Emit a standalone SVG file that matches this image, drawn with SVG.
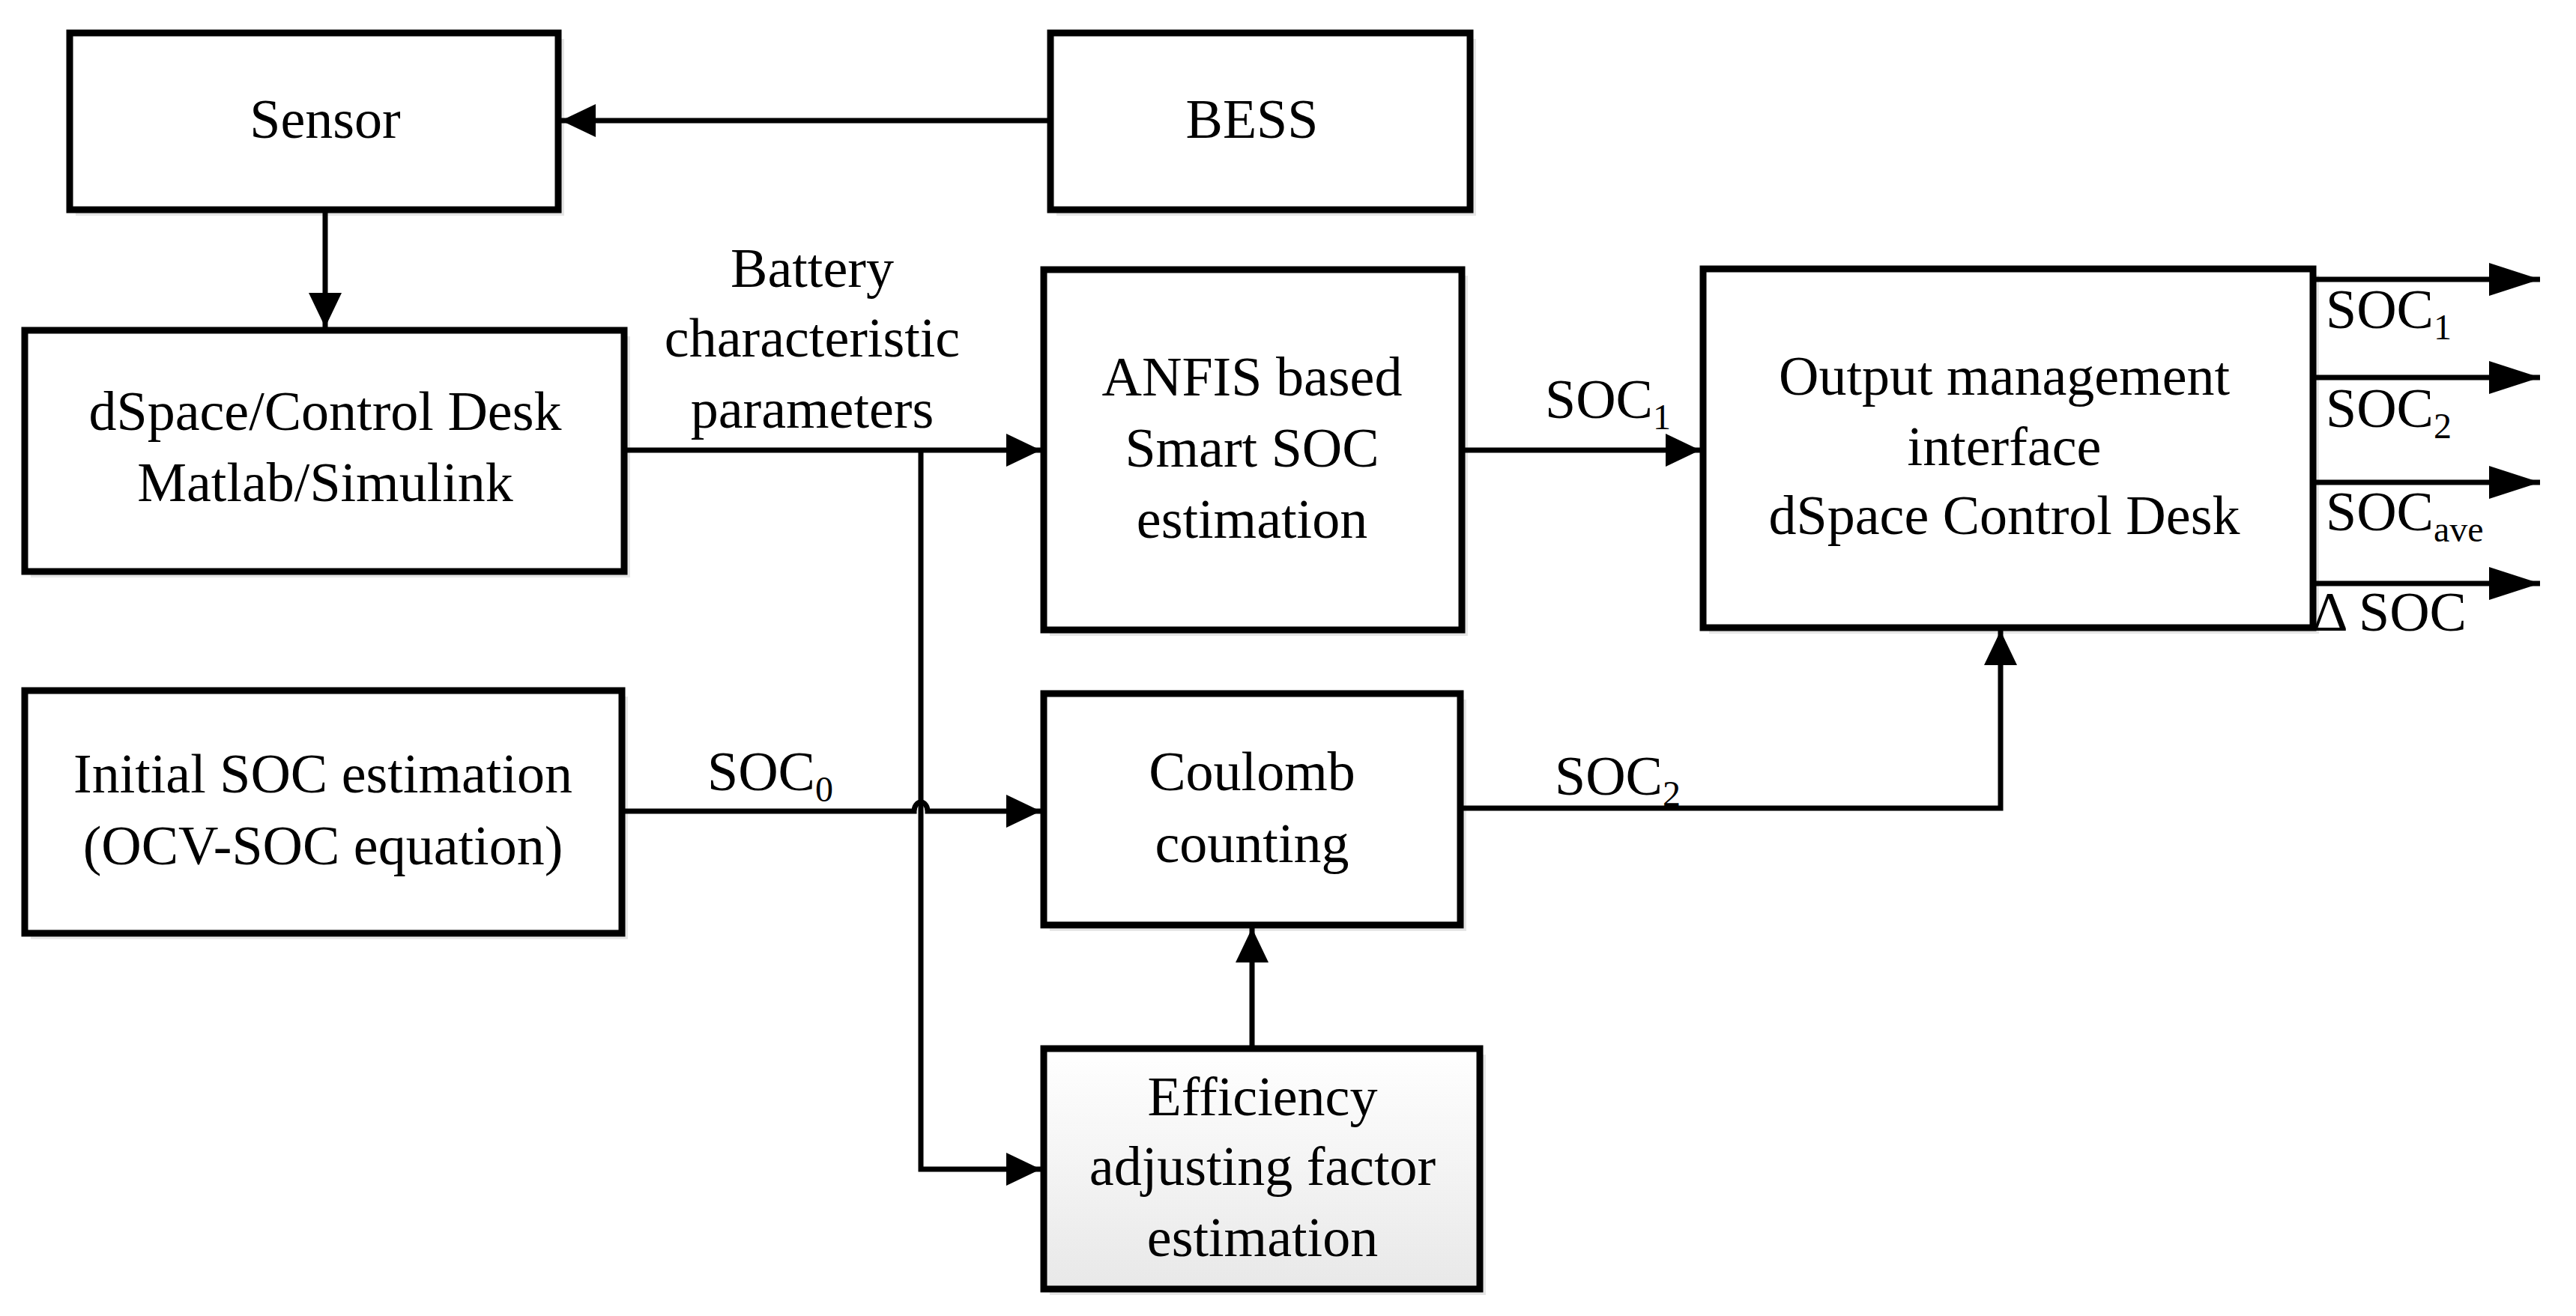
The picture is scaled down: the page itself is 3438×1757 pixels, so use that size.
<svg xmlns="http://www.w3.org/2000/svg" width="3438" height="1757" viewBox="0 0 3438 1757">
<style>
.box{fill:#fff;stroke:#000;stroke-width:9}
.sh{fill:#e6e6e6}
.t{font-family:"Liberation Serif",serif;font-size:74px;fill:#000;text-anchor:middle}
.l{font-family:"Liberation Serif",serif;font-size:74px;fill:#000}
.c{fill:none;stroke:#000;stroke-width:7}
.s{font-size:48px}
</style>
<defs>
<linearGradient id="g" x1="0" y1="0" x2="0" y2="1"><stop offset="0" stop-color="#fff"/><stop offset="1" stop-color="#e8e8e8"/></linearGradient>
<marker id="a" markerUnits="userSpaceOnUse" markerWidth="50" markerHeight="44" refX="46" refY="22" orient="auto"><path d="M0,0L46,22L0,44Z" fill="#000"/></marker>
<marker id="b" markerUnits="userSpaceOnUse" markerWidth="72" markerHeight="48" refX="68" refY="24" orient="auto"><path d="M0,2L68,24L0,46Z" fill="#000"/></marker>
</defs>
<g id="sensor"><rect class="sh" x="101" y="52" width="652" height="236"/><rect class="box" x="93" y="44" width="652" height="236"/><text class="t" x="434" y="184">Sensor</text></g>
<g id="bess"><rect class="sh" x="1410" y="52" width="560" height="236"/><rect class="box" x="1402" y="44" width="560" height="236"/><text class="t" x="1671" y="184">BESS</text></g>
<g id="dspace"><rect class="sh" x="41" y="449" width="800" height="322"/><rect class="box" x="33" y="441" width="800" height="322"/><text class="t" x="434" y="574">dSpace/Control Desk</text><text class="t" x="434" y="669">Matlab/Simulink</text></g>
<g id="anfis"><rect class="sh" x="1401" y="368" width="558" height="481"/><rect class="box" x="1393" y="360" width="558" height="481"/><text class="t" x="1671" y="528">ANFIS based</text><text class="t" x="1671" y="623">Smart SOC</text><text class="t" x="1671" y="718">estimation</text></g>
<g id="output"><rect class="sh" x="2281" y="367" width="814" height="479"/><rect class="box" x="2273" y="359" width="814" height="479"/><text class="t" x="2675" y="527">Output management</text><text class="t" x="2675" y="621">interface</text><text class="t" x="2675" y="713">dSpace Control Desk</text></g>
<g id="initial"><rect class="sh" x="41" y="930" width="797" height="324"/><rect class="box" x="33" y="922" width="797" height="324"/><text class="t" x="431" y="1058">Initial SOC estimation</text><text class="t" x="431" y="1154">(OCV-SOC equation)</text></g>
<g id="coulomb"><rect class="sh" x="1401" y="934" width="556" height="309"/><rect class="box" x="1393" y="926" width="556" height="309"/><text class="t" x="1671" y="1055">Coulomb</text><text class="t" x="1671" y="1151">counting</text></g>
<g id="efficiency"><rect class="sh" x="1401" y="1408" width="582" height="321"/><rect class="box" x="1393" y="1400" width="582" height="321" style="fill:url(#g)"/><text class="t" x="1685" y="1489">Efficiency</text><text class="t" x="1685" y="1582">adjusting factor</text><text class="t" x="1685" y="1677">estimation</text></g>
<g id="connectors">
<path class="c" d="M1402,161H749" marker-end="url(#a)"/>
<path class="c" d="M434,280V437" marker-end="url(#a)"/>
<path class="c" d="M833,601H1389" marker-end="url(#a)"/>
<path class="c" d="M1229,601V1561H1389" marker-end="url(#a)"/>
<path class="c" d="M830,1083H1220A9,12 0 0 1 1238,1083H1389" marker-end="url(#a)"/>
<path class="c" d="M1951,601H2269" marker-end="url(#a)"/>
<path class="c" d="M1949,1079H2670V842" marker-end="url(#a)"/>
<path class="c" d="M1671,1400V1239" marker-end="url(#a)"/>
<path class="c" d="M3087,373H3390" marker-end="url(#b)"/>
<path class="c" d="M3087,504H3390" marker-end="url(#b)"/>
<path class="c" d="M3087,644H3390" marker-end="url(#b)"/>
<path class="c" d="M3087,779H3390" marker-end="url(#b)"/>
</g>
<g id="labels">
<text class="t" x="1084" y="383">Battery</text><text class="t" x="1084" y="476">characteristic</text><text class="t" x="1084" y="571">parameters</text>
<text class="l" x="2062" y="558">SOC<tspan class="s" dy="15">1</tspan></text>
<text class="l" x="944" y="1055">SOC<tspan class="s" dy="15">0</tspan></text>
<text class="l" x="2075" y="1061">SOC<tspan class="s" dy="15">2</tspan></text>
<text class="l" x="3104" y="438">SOC<tspan class="s" dy="15">1</tspan></text>
<text class="l" x="3104" y="570">SOC<tspan class="s" dy="15">2</tspan></text>
<text class="l" x="3104" y="708">SOC<tspan class="s" dy="15">ave</tspan></text>
<text class="l" x="3086" y="842">Δ SOC</text>
</g>
</svg>
